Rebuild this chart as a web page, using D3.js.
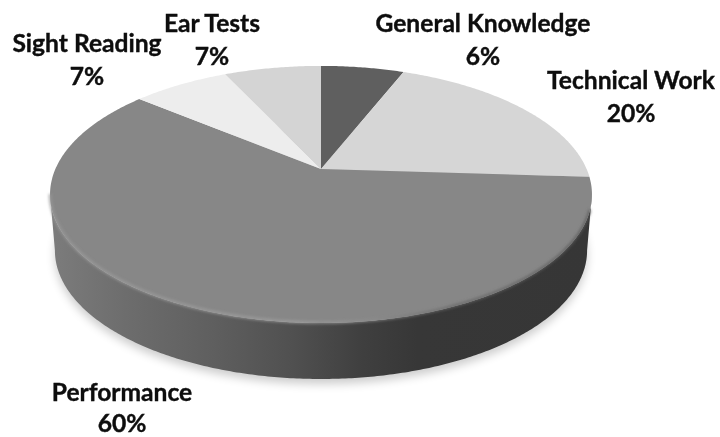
<!DOCTYPE html>
<html><head><meta charset="utf-8">
<style>html,body{margin:0;padding:0;background:#fff}svg{display:block}</style>
<script src="https://cdn.jsdelivr.net/npm/d3@7"></script></head>
<body><svg id="c" width="720" height="437"></svg>
<script>
const categories = ["General Knowledge","Technical Work","Performance","Sight Reading","Ear Tests"];
const values = [6,20,60,7,7];
const percentLabels = ["6%","20%","60%","7%","7%"];
const sliceColors = ["#5f5f5f","#d6d6d6","#878787","#ededed","#d4d4d4"];

const labelX = [483,631,122,87,212];
const labelY = [32,89,401,52,32];
const percentY = [65,122,432,85,65];
const cx=321, cy=169, a=265.6, b=123.5, k=0.198, depth=56, baseScale=0.982;

const svg=d3.select("#c");
const defs=svg.append("defs");
const project=(t,base=false)=>{
  const X=Math.sin(t),Y=Math.cos(t),w=1+k*Y;
  const s=base?baseScale:1;
  return [cx+s*a*X/w, cy-b*Y/w+(base?depth:0)];
};
const sample=(t0,t1,base=false)=>{
  const n=Math.max(2,Math.ceil(Math.abs(t1-t0)/0.01));
  return d3.range(n+1).map(i=>project(t0+(t1-t0)*i/n,base));
};
const line=d3.line();
const TAU=Math.PI*2;
const pie=d3.pie().sort(null).startAngle(0).endAngle(TAU)(values);

const blur=(id,s)=>defs.append("filter").attr("id",id).attr("x","-10%").attr("y","-10%").attr("width","120%").attr("height","120%")
  .append("feGaussianBlur").attr("stdDeviation",s);
blur("shadowBlur",5); blur("rimBlur",1.5); blur("textBlur",0.35);

const sideGrad=defs.append("linearGradient").attr("id","side").attr("gradientUnits","userSpaceOnUse")
  .attr("x1",50).attr("x2",590).attr("y1",0).attr("y2",0);
[[0,"#7c7c7c"],[0.15,"#6c6c6c"],[0.3,"#5f5f5f"],[0.45,"#505050"],[0.58,"#3f3f3f"],[0.68,"#373737"],[1,"#363636"]]
 .forEach(([o,c])=>sideGrad.append("stop").attr("offset",o).attr("stop-color",c));

const rimGrad=defs.append("linearGradient").attr("id","rim").attr("gradientUnits","userSpaceOnUse")
  .attr("x1",50).attr("x2",590).attr("y1",0).attr("y2",0);
[[0,"#9a9a9a"],[0.45,"#a0a0a0"],[0.6,"#8c8c8c"],[0.75,"#666"],[1,"#5a5a5a"]]
 .forEach(([o,c])=>rimGrad.append("stop").attr("offset",o).attr("stop-color",c));

const tL=Math.acos(-k), tR=TAU-tL;
const wall=[...sample(tL,tR,false),...sample(tR,tL,true)];
const baseRing=sample(0,TAU,true);

svg.append("path").attr("d",line(baseRing)+"Z").attr("transform","translate(0,5)")
  .attr("fill","#000").attr("opacity",0.2).attr("filter","url(#shadowBlur)");
svg.append("path").attr("d",line(wall)+"Z").attr("fill","url(#side)");

svg.selectAll("path.slice").data(pie).join("path").attr("class","slice")
  .attr("d",d=>line([[cx,cy],...sample(d.startAngle,d.endAngle)])+"Z")
  .attr("fill",(d,i)=>sliceColors[i]);

svg.append("path").attr("d",line(sample(tL+0.12,tR).map(p=>[p[0],p[1]-0.5])))
  .attr("fill","none").attr("stroke","url(#rim)").attr("stroke-width",2.2).attr("filter","url(#rimBlur)");

const labels=svg.append("g").attr("font-family","Lato, 'Open Sans', sans-serif").attr("font-weight",700)
  .attr("font-size",24.6).attr("fill","#0a0a0a").attr("stroke","#0a0a0a").attr("stroke-width",0.35)
  .attr("text-anchor","middle").attr("filter","url(#textBlur)");
categories.forEach((c,i)=>{
  labels.append("text").attr("x",labelX[i]).attr("y",labelY[i]).text(c);
  labels.append("text").attr("x",labelX[i]).attr("y",percentY[i]).text(percentLabels[i]);
});
</script></body></html>
